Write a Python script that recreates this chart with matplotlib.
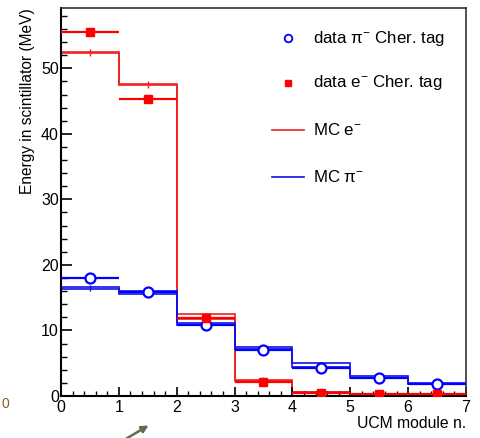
import numpy as np
import matplotlib
matplotlib.use('Agg')
import matplotlib.pyplot as plt
from matplotlib.ticker import MultipleLocator

plt.rcParams['font.family'] = ['Liberation Sans', 'DejaVu Sans']
plt.rcParams['mathtext.fontset'] = 'custom'
plt.rcParams['mathtext.rm'] = 'Liberation Sans'

# bordas dos modulos
bordas = np.arange(0, 8)
centros = np.arange(7) + 0.5

# dados (tag Cherenkov)
dados_e = [55.6, 45.3, 11.9, 2.2, 0.4, 0.3, 0.3]
dados_e_err = [0.6, 0.6, 0.5, 0.3, 0.2, 0.2, 0.2]
dados_pi = [18.0, 15.9, 10.8, 7.0, 4.2, 2.7, 1.8]
dados_pi_err = [0.3, 0.3, 0.3, 0.2, 0.2, 0.2, 0.2]

# simulacao MC (valor central e erro)
mc_e = [52.4, 47.5, 12.15, 2.35, 0.6, 0.3, 0.25]
mc_e_err = [0.1, 0.1, 0.35, 0.1, 0.05, 0.05, 0.05]
mc_pi = [16.5, 15.8, 11.0, 7.3, 4.75, 2.9, 1.85]
mc_pi_err = [0.1, 0.2, 0.2, 0.2, 0.25, 0.15, 0.08]

W, H = 481, 438
fig = plt.figure(figsize=(W / 100, H / 100), dpi=100)
ax = fig.add_axes([61 / W, 1 - 396 / H, (466 - 61) / W, (396 - 8) / H])

cor_e = '#f02020'
cor_pi = '#1010e8'

# histogramas MC (banda de erro como duas linhas)
for val, err, cor in [(mc_e, mc_e_err, cor_e), (mc_pi, mc_pi_err, cor_pi)]:
    val = np.array(val)
    err = np.array(err)
    ax.stairs(val + err, bordas, baseline=None, color=cor, lw=1.2)
    ax.stairs(val - err, bordas, baseline=None, color=cor, lw=1.2)
    ax.errorbar(centros, val, yerr=0.5, fmt='none', ecolor=cor, elinewidth=1.0)

# pontos dos dados
ax.errorbar(centros, dados_pi, xerr=0.5, yerr=dados_pi_err, fmt='o', color='blue',
            mfc='white', mec='blue', mew=1.6, ms=7.2, elinewidth=1.6, zorder=5)
ax.errorbar(centros, dados_e, xerr=0.5, yerr=dados_e_err, fmt='s', color='red',
            ms=6.2, elinewidth=1.6, zorder=6)

ax.set_xlim(0, 7)
ax.set_ylim(0, 59.2)
ax.xaxis.set_major_locator(MultipleLocator(1))
ax.xaxis.set_minor_locator(MultipleLocator(0.2))
ax.yaxis.set_major_locator(MultipleLocator(10))
ax.yaxis.set_minor_locator(MultipleLocator(2))
ax.tick_params(axis='y', which='major', direction='in', length=8, width=1.2, labelsize=11.5, pad=1.5)
ax.tick_params(axis='y', which='minor', direction='in', length=4.5, width=1.0)
ax.tick_params(axis='x', which='major', direction='in', length=6.5, width=1.2, labelsize=11.5, pad=3)
ax.tick_params(axis='x', which='minor', direction='in', length=3.6, width=1.0)
ax.tick_params(top=False, right=False, which='both')
for lado in ['left', 'bottom']:
    ax.spines[lado].set_linewidth(1.5)
for lado in ['top', 'right']:
    ax.spines[lado].set_linewidth(1.2)
    ax.spines[lado].set_color('#333333')

# titulos dos eixos
fig.text(28 / W, 1 - 8 / H, 'Energy in scintillator (MeV)', rotation=90,
         ha='center', va='top', fontsize=11.2)
fig.text(466 / W, 1 - 423 / H, 'UCM module n.', ha='right', va='center', fontsize=11.3)


def px(x, y):
    return x / W, 1 - y / H


# legenda manual
tf = fig.transFigure
ax.plot(*px(288, 38), 'o', transform=tf, mfc='white', mec='blue', mew=1.3, ms=5.5, clip_on=False)
fig.text(*px(313, 38), r'data π$^{-}$ Cher. tag', va='center', fontsize=12.2)
ax.plot(*px(288, 83), 's', transform=tf, color='red', ms=5, clip_on=False)
fig.text(*px(313, 83), r'data e$^{-}$ Cher. tag', va='center', fontsize=12.2)
ax.plot([272 / W, 304 / W], [1 - 130 / H] * 2, transform=tf, color=cor_e, lw=1.2, clip_on=False)
fig.text(*px(313, 130), r'MC e$^{-}$', va='center', fontsize=12.2)
ax.plot([272 / W, 304 / W], [1 - 177 / H] * 2, transform=tf, color=cor_pi, lw=1.2, clip_on=False)
fig.text(*px(313, 177), r'MC π$^{-}$', va='center', fontsize=12.2)

# restos da captura de tela
fig.text(*px(2, 404), '0', va='center', ha='left', fontsize=10, color='#8a5a20')
fig.add_artist(plt.Annotation('', xy=px(151, 424), xytext=px(124, 440), xycoords='figure fraction',
                              textcoords='figure fraction',
                              arrowprops=dict(arrowstyle='-|>', color='#6b6650', lw=1.8)))

fig.savefig('out.png', dpi=100)
